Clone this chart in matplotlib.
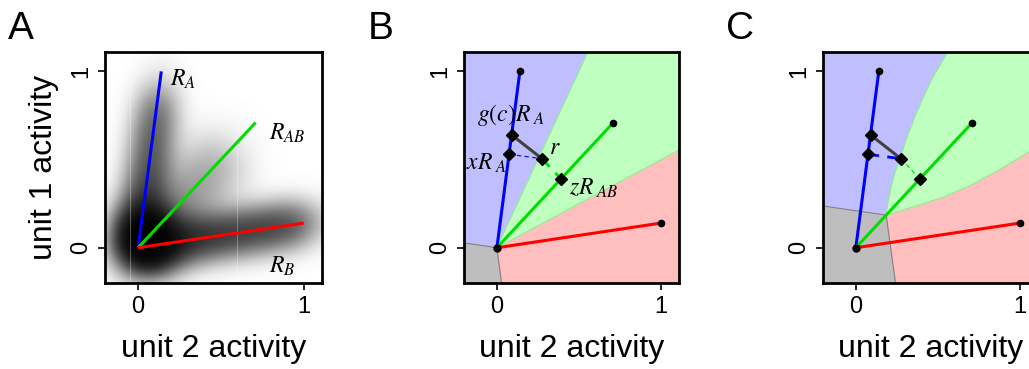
import numpy as np
import matplotlib
matplotlib.use("Agg")
import matplotlib.pyplot as plt

plt.rcParams['font.family'] = ['Liberation Sans', 'DejaVu Sans']
plt.rcParams['mathtext.fontset'] = 'stix'

# response vectors (unit 2 activity, unit 1 activity)
R_A = (0.14, 1.0)
R_AB = (0.71, 0.71)
R_B = (1.0, 0.14)

# observed response and its projections
r_point = (0.275, 0.505)
x_coef = 0.53      # x R_A
z_coef = 0.55      # z R_AB
g_coef = 0.64      # g(c) R_A

# panel A density: per response vector (A, AB, B)
dens_base = [0.9, 0.36, 1.25]
dens_peak = [0.8, 0.8, 0.8]
dens_end = [0.86, 0.76, 1.01]
dens_widths = [0.09, 0.14, 0.09]
origin_weight = 2.4
origin_center = (0.05, 0.05)
origin_width = 0.11
# faint light streaks in the density image (unit 2 positions)
streak_x = [-0.05, 0.6]

# panel B: class boundaries (straight)
B_gray_blue = ([-0.2, 0.0], [0.028, 0.0])
B_gray_red = ([0.0, 0.028], [0.0, -0.2])
B_blue_green = ([0.0, 0.555], [0.0, 1.11])
B_green_red = ([0.0, 1.11], [0.0, 0.555])

# panel C: class boundaries
C_gray_blue = ([-0.2, 0.185], [0.237, 0.185])
C_gray_red = ([0.185, 0.242], [0.185, -0.2])
C_blue_green = ([0.185, 0.197, 0.217, 0.24, 0.267, 0.31, 0.368, 0.46, 0.56],
                [0.185, 0.26, 0.35, 0.43, 0.497, 0.62, 0.761, 0.95, 1.11])
C_green_red = ([0.185, 0.28, 0.388, 0.54, 0.69, 0.87, 1.048, 1.11],
               [0.185, 0.213, 0.243, 0.29, 0.35, 0.44, 0.54, 0.575])

XLIM = (-0.2, 1.11)
YLIM = (-0.2, 1.11)

col_blue = '#0000FF'
col_green = '#00DD00'
col_red = '#FF0000'
fill_blue = '#BFBFFF'
fill_green = '#BFFFBF'
fill_red = '#FFBFBF'
fill_gray = '#BEBEBE'

fig = plt.figure(figsize=(10.29, 3.69), dpi=100)
axA = fig.add_axes([0.102, 0.233, 0.2109, 0.626])
axB = fig.add_axes([0.451, 0.233, 0.2089, 0.626])
axC = fig.add_axes([0.7998, 0.233, 0.2089, 0.626])


def style_axes(ax):
    ax.set_xlim(*XLIM)
    ax.set_ylim(*YLIM)
    ax.set_xticks([0, 1])
    ax.set_yticks([0, 1])
    ax.set_xticklabels(['0', '1'], fontsize=17)
    ax.set_yticklabels(['0', '1'], fontsize=17, rotation=90, va='center')
    ax.tick_params(length=5, width=1.2, pad=4)
    for s in ax.spines.values():
        s.set_linewidth(2)
    ax.set_xlabel('unit 2 activity', fontsize=23, labelpad=12)


def draw_vectors(ax, dots=True):
    for R, c in [(R_A, col_blue), (R_AB, col_green), (R_B, col_red)]:
        ax.plot([0, R[0]], [0, R[1]], color=c, lw=2.2, zorder=3, solid_capstyle='butt')
        if dots:
            ax.plot([R[0]], [R[1]], 'o', color='black', ms=4.5, zorder=5)
    if dots:
        ax.plot([0], [0], 'o', color='black', ms=5, zorder=5)


# ---- panel A: density image
xs = np.linspace(XLIM[0], XLIM[1], 400)
ys = np.linspace(YLIM[0], YLIM[1], 400)
X, Y = np.meshgrid(xs, ys)
dens = origin_weight * np.exp(-((X - origin_center[0])**2 + (Y - origin_center[1])**2)
                              / (2 * origin_width**2))
for R, base, peak, tend, s in zip([R_A, R_AB, R_B], dens_base, dens_peak, dens_end, dens_widths):
    L2 = R[0]**2 + R[1]**2
    t = (X * R[0] + Y * R[1]) / L2
    d2 = (X - t * R[0])**2 + (Y - t * R[1])**2
    prof = base + peak * np.exp(-np.clip(t, 0, None) / 0.25)
    fade = 1 / (1 + np.exp((t - tend) / 0.07)) / (1 + np.exp(-t / 0.06))
    dens += prof * fade * np.exp(-d2 / (2 * s**2))
dark = 1 - np.exp(-dens)
axA.imshow(dark, extent=(XLIM[0], XLIM[1], YLIM[0], YLIM[1]), origin='lower',
           cmap='gray_r', vmin=0, vmax=1, aspect='auto', interpolation='bilinear')
for sx in streak_x:
    axA.axvline(sx, color='white', lw=0.7, alpha=0.3, zorder=2)
draw_vectors(axA, dots=False)
axA.text(0.19, 0.92, r'$R_A$', fontsize=17)
axA.text(0.79, 0.61, r'$R_{AB}$', fontsize=17)
axA.text(0.79, -0.14, r'$R_B$', fontsize=17)
style_axes(axA)
axA.set_ylabel('unit 1 activity', fontsize=23, labelpad=8)


def fill_regions(ax, gb, gr, bg, brd):
    x0, x1 = XLIM
    y0, y1 = YLIM
    ax.add_patch(plt.Rectangle((x0, y0), x1 - x0, y1 - y0, color=fill_red, zorder=0))
    gx = [x0, x0] + list(gb[0][1:]) + list(gr[0][1:]) + [x0]
    gy = [y0, gb[1][0]] + list(gb[1][1:]) + list(gr[1][1:]) + [y0]
    ax.fill(gx, gy, color=fill_gray, zorder=1, lw=0)
    bx = list(gb[0]) + list(bg[0][1:]) + [x0]
    by = list(gb[1]) + list(bg[1][1:]) + [y1]
    ax.fill(bx, by, color=fill_blue, zorder=1, lw=0)
    grx = list(bg[0]) + [x1] + list(brd[0][::-1])
    gry = list(bg[1]) + [y1] + list(brd[1][::-1])
    ax.fill(grx, gry, color=fill_green, zorder=1, lw=0)
    ax.plot(*gb, color='#808080', lw=0.8, zorder=2)
    ax.plot(*gr, color='#808080', lw=0.8, zorder=2)
    ax.plot(*bg, color='#90EE90', lw=0.8, zorder=2)
    ax.plot(*brd, color='#90EE90', lw=0.8, zorder=2)


def draw_projection(ax, blue_lw, green_lw):
    xa = (x_coef * R_A[0], x_coef * R_A[1])
    ga = (g_coef * R_A[0], g_coef * R_A[1])
    za = (z_coef * R_AB[0], z_coef * R_AB[1])
    ax.plot([ga[0], r_point[0]], [ga[1], r_point[1]], color='#404040', lw=2.2, zorder=4)
    ax.plot([xa[0], r_point[0]], [xa[1], r_point[1]], color=col_blue, lw=blue_lw,
            ls=(0, (4, 3)), zorder=4)
    ax.plot([r_point[0], za[0]], [r_point[1], za[1]], color=col_green, lw=green_lw,
            ls=(0, (4, 3)), zorder=4)
    for p in [xa, ga, za, r_point]:
        ax.plot([p[0]], [p[1]], 'D', color='black', ms=6.5, zorder=6)


# ---- panel B
fill_regions(axB, B_gray_blue, B_gray_red, B_blue_green, B_green_red)
draw_vectors(axB)
draw_projection(axB, 0.8, 2.0)
axB.text(-0.12, 0.72, r'$g(c)R_{\ A}$', fontsize=17)
axB.text(0.06, 0.48, r'$xR_{\ A}$', fontsize=17, ha='right', va='center')
axB.text(0.315, 0.53, r'$r$', fontsize=17)
axB.text(0.44, 0.30, r'$zR_{\ AB}$', fontsize=17)
style_axes(axB)

# ---- panel C
fill_regions(axC, C_gray_blue, C_gray_red, C_blue_green, C_green_red)
draw_vectors(axC)
draw_projection(axC, 2.0, 0.8)
style_axes(axC)

fig.text(0.008, 0.97, 'A', fontsize=28, va='top')
fig.text(0.357, 0.97, 'B', fontsize=28, va='top')
fig.text(0.706, 0.97, 'C', fontsize=28, va='top')

fig.savefig('out.png', dpi=100)
